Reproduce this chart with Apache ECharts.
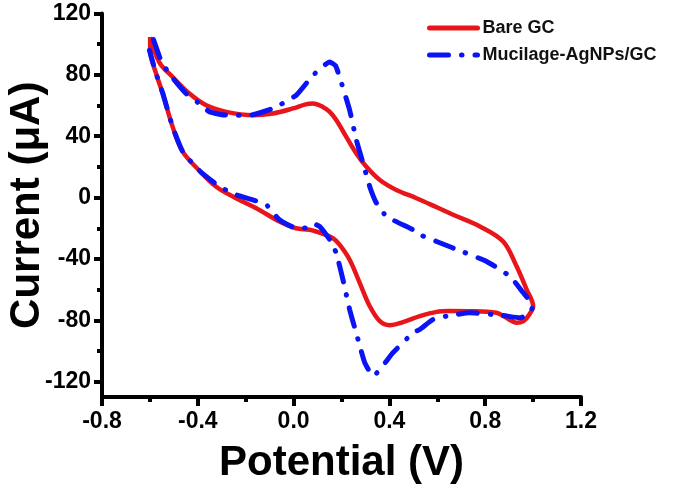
<!DOCTYPE html>
<html>
<head>
<meta charset="utf-8">
<script src="https://cdn.jsdelivr.net/npm/echarts@6/dist/echarts.min.js"></script>
<style>html,body{margin:0;padding:0;background:#fff}#c{width:675px;height:489px}</style>
</head>
<body>
<div id="c"></div>
<script>
// Bare GC (closed CV loop), potential in V, current in µA
const bareV = [-0.599,-0.56,-0.505,-0.435,-0.365,-0.281,-0.170,-0.087,-0.003,0.050,0.081,0.122,0.150,0.178,0.220,0.262,0.304,0.360,0.429,0.513,0.600,0.666,0.778,0.875,0.931,0.973,1.000,
  0.985,0.960,0.931,0.905,0.889,0.847,0.736,0.650,0.597,0.527,0.460,0.401,0.360,0.318,0.276,0.234,0.192,0.164,0.122,0.067,0.010,-0.059,-0.156,-0.240,-0.323,-0.393,-0.463,-0.505,-0.546,-0.574,-0.599,-0.599];
const bareI = [104.6,88,78.6,67.8,60.2,55.9,53.7,54.8,58.1,60.8,61.3,59.1,56,50.5,39.6,28.8,20.1,11.5,5.0,-0.4,-6.5,-11.2,-18.8,-28.6,-44.8,-60.0,-70.8,
  -76,-80.5,-81.6,-80,-78.4,-75.1,-74.1,-74.0,-74.5,-77.3,-81.0,-83.2,-80.6,-70.8,-55.6,-40.5,-30.7,-26.4,-23.6,-21.0,-20.0,-15.6,-6.9,-0.4,7.1,17.5,30,46.1,67.8,80.8,96.0,104.6];
// Mucilage-AgNPs/GC
const mucV = [-0.585,-0.55,-0.505,-0.45,-0.40,-0.351,-0.300,-0.240,-0.184,-0.087,0.011,0.081,0.151,0.175,0.192,0.234,0.262,0.290,0.318,0.346,0.388,0.499,0.527,0.597,0.666,0.806,0.903,0.959,1.000,
  0.980,0.945,0.875,0.736,0.638,0.582,0.527,0.499,0.415,0.332,0.297,0.269,0.234,0.206,0.178,0.151,0.109,0.090,0.067,0.011,-0.059,-0.114,-0.170,-0.240,-0.309,-0.393,-0.463,-0.505,-0.546,-0.574,-0.602];
const mucI = [103,88,78,68,62,55.9,54,53.7,53.7,58.1,66.7,79.7,88.4,86,78.6,57.0,37.5,22.4,7.1,-3.6,-12.3,-21.0,-24.2,-28.6,-32.9,-41.6,-51.3,-62.1,-70.8,
  -76,-78.4,-76.9,-75.1,-77.3,-79.5,-86.0,-88.1,-101.1,-116.3,-107.6,-92.5,-73,-53.5,-36.1,-27.5,-18.8,-17.5,-19.9,-19.9,-14.5,-4.7,-1.5,1.8,7.1,17.5,30,46.1,67.8,80.8,96.0];
const seriesNames = ['Bare GC','Mucilage-AgNPs/GC'];
const yMajor = [-120,-80,-40,0,40,80,120];
const yMinor = [-100,-60,-20,20,60,100];
const xTitle = 'Potential (V)';
const yTitle = 'Current (\u03bcA)';

const zip = (a,b)=>a.map((v,i)=>[v,b[i]]);
const FONT = '"Liberation Sans", Arial, sans-serif';
const chart = echarts.init(document.getElementById('c'), null, {renderer:'canvas'});
chart.setOption({
  animation:false,
  backgroundColor:'#fff',
  grid:{left:102,right:94,top:13.5,bottom:92,containLabel:false,outerBoundsMode:'none'},
  legend:{
    orient:'vertical', left:422, top:14, itemWidth:48, itemHeight:14, itemGap:9,
    itemStyle:{opacity:0, borderWidth:0},
    lineStyle:{width:5, cap:'round'},
    textStyle:{fontFamily:FONT,fontWeight:'bold',fontSize:18,color:'#111'},
    data:seriesNames
  },
  xAxis:{
    type:'value', min:-0.8, max:1.2, interval:0.4,
    name:xTitle, nameLocation:'middle', nameGap:45, nameMoveOverlap:false,
    nameTextStyle:{fontFamily:FONT,fontWeight:'bold',fontSize:42,color:'#000'},
    axisLine:{onZero:false,lineStyle:{color:'#000',width:4}},
    axisTick:{length:9,lineStyle:{width:4,color:'#000'}},
    minorTick:{show:true,splitNumber:2,length:5,lineStyle:{width:4,color:'#000'}},
    splitLine:{show:false},
    axisLabel:{fontFamily:FONT,fontWeight:'bold',fontSize:23,color:'#000',margin:13,
      formatter:v=>v.toFixed(1)}
  },
  yAxis:[{
    type:'value', min:-130, max:120,
    name:yTitle, nameLocation:'middle', nameGap:54, nameMoveOverlap:false,
    nameTextStyle:{fontFamily:FONT,fontWeight:'bold',fontSize:42,color:'#000'},
    axisLine:{onZero:false,lineStyle:{color:'#000',width:4}},
    axisTick:{length:8,customValues:yMajor,lineStyle:{width:4,color:'#000'}},
    splitLine:{show:false},
    axisLabel:{fontFamily:FONT,fontWeight:'bold',fontSize:23,color:'#000',margin:11,customValues:yMajor}
  },{
    type:'value', min:-130, max:120, position:'left', offset:0,
    axisLine:{show:false,onZero:false},
    axisTick:{length:5,customValues:yMinor,lineStyle:{width:4,color:'#000'}},
    axisLabel:{show:false}, splitLine:{show:false}
  }],
  series:[{
    name:seriesNames[0], type:'line', data:zip(bareV,bareI), symbol:'none', smooth:0.35,
    lineStyle:{color:'#e8161b',width:4.5}, itemStyle:{color:'#e8161b'}, z:2
  },{
    name:seriesNames[1], type:'line', data:zip(mucV,mucI), symbol:'none', smooth:0.15,
    lineStyle:{color:'#0a14f5',width:5,type:[19,13,0.5,13],cap:'round'}, itemStyle:{color:'#0a14f5'}, z:3
  }]
});
</script>
</body>
</html>
